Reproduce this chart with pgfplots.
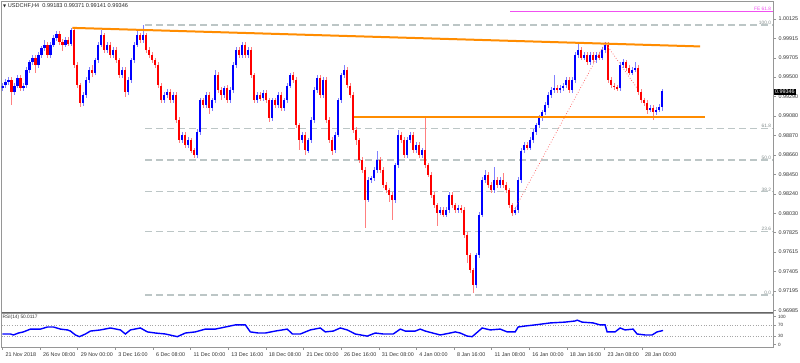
\documentclass[border=0pt]{standalone}
\usepackage{fontspec}
\setmainfont{Liberation Sans}
\newfontfamily\dejavu{DejaVu Sans}
\usepackage{pgfplots}
\usepackage{pgfplotstable}
\pgfplotsset{compat=1.18}

\definecolor{bull}{RGB}{0,0,255}
\definecolor{bear}{RGB}{255,0,0}
\definecolor{fibc}{RGB}{188,198,198}
\definecolor{fibt}{RGB}{130,140,140}
\definecolor{trend}{RGB}{255,140,0}
\definecolor{fe}{RGB}{240,80,240}
\definecolor{framec}{RGB}{150,150,150}

\pgfplotstableread{
x o h l c
0 0.9938 0.9944 0.9935 0.9941
1 0.9941 0.9948 0.9938 0.9945
2 0.9945 0.9950 0.9942 0.9947
3 0.9947 0.9950 0.9920 0.9934
4 0.9934 0.9944 0.9931 0.9941
5 0.9941 0.9952 0.9938 0.9949
6 0.9949 0.9952 0.9935 0.9938
7 0.9938 0.9944 0.9935 0.9941
8 0.9941 0.9961 0.9938 0.9958
9 0.9958 0.9969 0.9955 0.9966
10 0.9966 0.9974 0.9963 0.9971
11 0.9971 0.9974 0.9955 0.9963
12 0.9963 0.9977 0.9960 0.9974
13 0.9974 0.9984 0.9971 0.9981
14 0.9981 0.9990 0.9978 0.9985
15 0.9985 0.9988 0.9971 0.9974
16 0.9974 0.9988 0.9971 0.9985
17 0.9985 0.9995 0.9982 0.9992
18 0.9992 1.0000 0.9989 0.9997
19 0.9997 1.0000 0.9985 0.9988
20 0.9988 0.9991 0.9978 0.9985
21 0.9985 0.9993 0.9982 0.9990
22 0.9990 0.9993 0.9983 0.9986
23 0.9986 1.0003 0.9983 1.0001
24 1.0001 1.0003 0.9960 0.9963
25 0.9963 0.9966 0.9938 0.9941
26 0.9941 0.9944 0.9918 0.9922
27 0.9922 0.9934 0.9919 0.9931
28 0.9931 0.9950 0.9928 0.9947
29 0.9947 0.9961 0.9944 0.9958
30 0.9958 0.9963 0.9950 0.9955
31 0.9955 0.9971 0.9952 0.9968
32 0.9968 0.9988 0.9965 0.9985
33 0.9985 1.0001 0.9982 0.9995
34 0.9995 0.9998 0.9976 0.9979
35 0.9979 0.9988 0.9976 0.9985
36 0.9985 0.9988 0.9971 0.9974
37 0.9974 0.9982 0.9971 0.9979
38 0.9979 0.9982 0.9965 0.9968
39 0.9968 0.9971 0.9949 0.9952
40 0.9952 0.9961 0.9949 0.9958
41 0.9958 0.9961 0.9929 0.9934
42 0.9934 0.9950 0.9931 0.9947
43 0.9947 0.9971 0.9944 0.9968
44 0.9968 0.9988 0.9965 0.9985
45 0.9985 1.0001 0.9982 0.9995
46 0.9995 0.9998 0.9987 0.9990
47 0.9990 1.0006 0.9987 0.9995
48 0.9995 0.9998 0.9976 0.9979
49 0.9979 0.9982 0.9971 0.9974
50 0.9974 0.9977 0.9965 0.9968
51 0.9968 0.9971 0.9960 0.9963
52 0.9963 0.9966 0.9938 0.9941
53 0.9941 0.9944 0.9922 0.9925
54 0.9925 0.9934 0.9922 0.9931
55 0.9931 0.9937 0.9928 0.9934
56 0.9934 0.9937 0.9922 0.9925
57 0.9925 0.9934 0.9922 0.9931
58 0.9931 0.9934 0.9901 0.9904
59 0.9904 0.9907 0.9879 0.9882
60 0.9882 0.9891 0.9879 0.9888
61 0.9888 0.9891 0.9874 0.9877
62 0.9877 0.9885 0.9874 0.9882
63 0.9882 0.9885 0.9868 0.9871
64 0.9871 0.9874 0.9863 0.9866
65 0.9866 0.9894 0.9863 0.9891
66 0.9891 0.9928 0.9888 0.9925
67 0.9925 0.9928 0.9917 0.9920
68 0.9920 0.9934 0.9917 0.9931
69 0.9931 0.9934 0.9910 0.9917
70 0.9917 0.9928 0.9914 0.9925
71 0.9925 0.9958 0.9922 0.9952
72 0.9952 0.9955 0.9933 0.9936
73 0.9936 0.9939 0.9925 0.9931
74 0.9931 0.9941 0.9928 0.9938
75 0.9938 0.9941 0.9922 0.9925
76 0.9925 0.9939 0.9922 0.9936
77 0.9936 0.9966 0.9933 0.9963
78 0.9963 0.9982 0.9960 0.9979
79 0.9979 0.9982 0.9971 0.9974
80 0.9974 0.9988 0.9971 0.9985
81 0.9985 0.9988 0.9971 0.9974
82 0.9974 0.9982 0.9971 0.9979
83 0.9979 0.9982 0.9949 0.9952
84 0.9952 0.9955 0.9922 0.9925
85 0.9925 0.9934 0.9922 0.9931
86 0.9931 0.9934 0.9924 0.9927
87 0.9927 0.9936 0.9924 0.9933
88 0.9933 0.9936 0.9922 0.9925
89 0.9925 0.9928 0.9902 0.9906
90 0.9906 0.9928 0.9903 0.9925
91 0.9925 0.9928 0.9917 0.9920
92 0.9920 0.9934 0.9917 0.9931
93 0.9931 0.9934 0.9914 0.9917
94 0.9917 0.9928 0.9914 0.9925
95 0.9925 0.9944 0.9922 0.9941
96 0.9941 0.9955 0.9938 0.9952
97 0.9952 0.9955 0.9944 0.9947
98 0.9947 0.9950 0.9895 0.9898
99 0.9898 0.9901 0.9872 0.9882
100 0.9882 0.9891 0.9879 0.9888
101 0.9888 0.9891 0.9866 0.9871
102 0.9871 0.9885 0.9868 0.9882
103 0.9882 0.9907 0.9879 0.9904
104 0.9904 0.9939 0.9901 0.9936
105 0.9936 0.9952 0.9933 0.9949
106 0.9949 0.9952 0.9928 0.9931
107 0.9931 0.9950 0.9928 0.9947
108 0.9947 0.9950 0.9901 0.9904
109 0.9904 0.9907 0.9879 0.9882
110 0.9882 0.9885 0.9866 0.9871
111 0.9871 0.9891 0.9868 0.9888
112 0.9888 0.9928 0.9885 0.9925
113 0.9925 0.9955 0.9922 0.9952
114 0.9952 0.9963 0.9949 0.9958
115 0.9958 0.9961 0.9938 0.9941
116 0.9941 0.9944 0.9928 0.9931
117 0.9931 0.9934 0.9890 0.9893
118 0.9893 0.9896 0.9877 0.9882
119 0.9882 0.9885 0.9858 0.9861
120 0.9861 0.9864 0.9847 0.9850
121 0.9850 0.9853 0.9788 0.9818
122 0.9818 0.9842 0.9815 0.9839
123 0.9839 0.9844 0.9836 0.9841
124 0.9841 0.9853 0.9838 0.9850
125 0.9850 0.9871 0.9847 0.9861
126 0.9861 0.9864 0.9847 0.9850
127 0.9850 0.9853 0.9831 0.9834
128 0.9834 0.9837 0.9825 0.9828
129 0.9828 0.9831 0.9815 0.9823
130 0.9823 0.9826 0.9796 0.9818
131 0.9818 0.9858 0.9815 0.9855
132 0.9855 0.9893 0.9852 0.9888
133 0.9888 0.9891 0.9879 0.9882
134 0.9882 0.9885 0.9863 0.9866
135 0.9866 0.9885 0.9863 0.9882
136 0.9882 0.9891 0.9879 0.9888
137 0.9888 0.9891 0.9868 0.9871
138 0.9871 0.9880 0.9868 0.9877
139 0.9877 0.9880 0.9863 0.9866
140 0.9866 0.9874 0.9863 0.9871
141 0.9871 0.9907 0.9852 0.9855
142 0.9855 0.9858 0.9842 0.9845
143 0.9845 0.9848 0.9820 0.9823
144 0.9823 0.9826 0.9809 0.9812
145 0.9812 0.9815 0.9790 0.9804
146 0.9804 0.9810 0.9801 0.9807
147 0.9807 0.9810 0.9799 0.9802
148 0.9802 0.9810 0.9799 0.9807
149 0.9807 0.9826 0.9804 0.9823
150 0.9823 0.9826 0.9809 0.9812
151 0.9812 0.9815 0.9804 0.9807
152 0.9807 0.9812 0.9804 0.9809
153 0.9809 0.9812 0.9804 0.9807
154 0.9807 0.9810 0.9777 0.9780
155 0.9780 0.9783 0.9750 0.9758
156 0.9758 0.9761 0.9739 0.9742
157 0.9742 0.9745 0.9718 0.9726
158 0.9726 0.9761 0.9723 0.9758
159 0.9758 0.9805 0.9755 0.9802
160 0.9802 0.9842 0.9799 0.9839
161 0.9839 0.9850 0.9836 0.9845
162 0.9845 0.9848 0.9831 0.9834
163 0.9834 0.9837 0.9825 0.9828
164 0.9828 0.9853 0.9825 0.9839
165 0.9839 0.9842 0.9831 0.9834
166 0.9834 0.9842 0.9831 0.9839
167 0.9839 0.9847 0.9831 0.9834
168 0.9834 0.9837 0.9825 0.9828
169 0.9828 0.9831 0.9809 0.9812
170 0.9812 0.9815 0.9801 0.9804
171 0.9804 0.9810 0.9801 0.9807
172 0.9807 0.9842 0.9804 0.9839
173 0.9839 0.9874 0.9836 0.9871
174 0.9871 0.9880 0.9868 0.9877
175 0.9877 0.9880 0.9871 0.9874
176 0.9874 0.9885 0.9871 0.9882
177 0.9882 0.9894 0.9879 0.9891
178 0.9891 0.9901 0.9888 0.9898
179 0.9898 0.9909 0.9895 0.9906
180 0.9906 0.9915 0.9903 0.9912
181 0.9912 0.9923 0.9909 0.9920
182 0.9920 0.9934 0.9917 0.9931
183 0.9931 0.9939 0.9928 0.9936
184 0.9936 0.9952 0.9933 0.9938
185 0.9938 0.9941 0.9933 0.9936
186 0.9936 0.9941 0.9933 0.9938
187 0.9938 0.9944 0.9935 0.9941
188 0.9941 0.9950 0.9938 0.9947
189 0.9947 0.9950 0.9933 0.9936
190 0.9936 0.9950 0.9933 0.9947
191 0.9947 0.9977 0.9944 0.9974
192 0.9974 0.9987 0.9971 0.9979
193 0.9979 0.9982 0.9968 0.9971
194 0.9971 0.9977 0.9968 0.9974
195 0.9974 0.9977 0.9963 0.9966
196 0.9966 0.9977 0.9963 0.9974
197 0.9974 0.9977 0.9965 0.9968
198 0.9968 0.9977 0.9965 0.9974
199 0.9974 0.9977 0.9968 0.9971
200 0.9971 0.9982 0.9968 0.9979
201 0.9979 0.9988 0.9976 0.9985
202 0.9985 0.9988 0.9944 0.9947
203 0.9947 0.9950 0.9938 0.9941
204 0.9941 0.9944 0.9936 0.9939
205 0.9939 0.9942 0.9935 0.9938
206 0.9938 0.9966 0.9935 0.9963
207 0.9963 0.9970 0.9960 0.9966
208 0.9966 0.9969 0.9957 0.9960
209 0.9960 0.9963 0.9952 0.9955
210 0.9955 0.9961 0.9952 0.9958
211 0.9958 0.9966 0.9955 0.9960
212 0.9960 0.9963 0.9931 0.9934
213 0.9934 0.9937 0.9922 0.9925
214 0.9925 0.9928 0.9919 0.9922
215 0.9922 0.9925 0.9910 0.9915
216 0.9915 0.9920 0.9912 0.9917
217 0.9917 0.9920 0.9904 0.9912
218 0.9912 0.9918 0.9909 0.9915
219 0.9915 0.9921 0.9912 0.9918
220 0.9918 0.9937 0.9914 0.9935
}\candles

\begin{document}
\begin{tikzpicture}[font=\fontsize{5.6}{6.5}\selectfont]
\path[use as bounding box] (0pt,0pt) rectangle (800pt,362pt);
\fill[white] (0pt,0pt) rectangle (800pt,362pt);

\begin{axis}[
  at={(1.5pt,50pt)}, anchor=south west, scale only axis,
  width=771.5pt, height=310.5pt,
  xmin=-0.33, xmax=257, ymin=0.96970, ymax=1.00314,
  xtick=\empty,
  ytick={1.00125,0.99915,0.99705,0.99500,0.99290,0.99080,0.98870,0.98660,0.98450,0.98240,0.98030,0.97825,0.97615,0.97405,0.97195,0.96985},
  yticklabels={1.00125,0.99915,0.99705,0.99500,0.99290,0.99080,0.98870,0.98660,0.98450,0.98240,0.98030,0.97825,0.97615,0.97405,0.97195,0.96985},
  ytick pos=right, yticklabel pos=right,
  tick align=outside, major tick length=3pt,
  tick style={framec, line width=0.5pt},
  tick label style={font=\fontsize{5.4}{6}\selectfont, text=black!80},
  yticklabel style={xshift=-1pt},
  axis line style={framec, line width=0.6pt},
]
% Fibonacci levels
\addplot[fibc, line width=1.3pt, dash pattern=on 7pt off 4pt] coordinates {(47.67,1.00060) (257,1.00060)};
\addplot[fibc, line width=1.3pt, dash pattern=on 7pt off 4pt] coordinates {(47.67,0.98950) (257,0.98950)};
\addplot[fibc, line width=1.3pt, dash pattern=on 7pt off 4pt] coordinates {(47.67,0.98607) (257,0.98607)};
\addplot[fibc, line width=1.3pt, dash pattern=on 7pt off 4pt] coordinates {(47.67,0.98264) (257,0.98264)};
\addplot[fibc, line width=1.3pt, dash pattern=on 7pt off 4pt] coordinates {(47.67,0.97839) (257,0.97839)};
\addplot[fibc, line width=1.3pt, dash pattern=on 7pt off 4pt] coordinates {(47.67,0.97153) (257,0.97153)};

% wicks
\addplot[draw=none, mark=none, restrict expr to domain={\thisrow{c}-\thisrow{o}}{0:1},
  error bars/.cd, y dir=both, y explicit, error mark=none,
  error bar style={draw=bull!50, line width=0.7pt}]
  table[x=x, y expr={(\thisrow{h}+\thisrow{l})/2}, y error expr={(\thisrow{h}-\thisrow{l})/2}] {\candles};
\addplot[draw=none, mark=none, restrict expr to domain={\thisrow{c}-\thisrow{o}}{-1:-0.00001},
  error bars/.cd, y dir=both, y explicit, error mark=none,
  error bar style={draw=bear!50, line width=0.7pt}]
  table[x=x, y expr={(\thisrow{h}+\thisrow{l})/2}, y error expr={(\thisrow{h}-\thisrow{l})/2}] {\candles};
% bodies
\addplot[draw=none, mark=none, restrict expr to domain={\thisrow{c}-\thisrow{o}}{0:1},
  error bars/.cd, y dir=both, y explicit, error mark=none,
  error bar style={draw=bull, line width=2.1pt}]
  table[x=x, y expr={(\thisrow{o}+\thisrow{c})/2}, y error expr={max(abs(\thisrow{c}-\thisrow{o})/2,0.00003)}] {\candles};
\addplot[draw=none, mark=none, restrict expr to domain={\thisrow{c}-\thisrow{o}}{-1:-0.00001},
  error bars/.cd, y dir=both, y explicit, error mark=none,
  error bar style={draw=bear, line width=2.1pt}]
  table[x=x, y expr={(\thisrow{o}+\thisrow{c})/2}, y error expr={max(abs(\thisrow{c}-\thisrow{o})/2,0.00003)}] {\candles};

% trend lines
\addplot[trend, line width=2pt] coordinates {(23.33,1.0003) (232.67,0.9983)};
\addplot[trend, line width=2pt] coordinates {(117.33,0.9907) (234.33,0.9907)};
\addplot[red!65, dotted, line width=0.7pt] coordinates {(170,0.9803) (201,0.9987) (211.67,0.9938)};
\addplot[fe, line width=1.1pt] coordinates {(169.33,1.0021) (257,1.0021)};

\begin{scope}[every node/.style={font=\fontsize{4.8}{5}\selectfont, inner sep=0.6pt, anchor=south east}]
\node[text=fibt] at (axis cs:256.6,1.00060) {100.0};
\node[text=fibt] at (axis cs:256.6,0.98950) {61.8};
\node[text=fibt] at (axis cs:256.6,0.98607) {50.0};
\node[text=fibt] at (axis cs:256.6,0.98264) {38.2};
\node[text=fibt] at (axis cs:256.6,0.97839) {23.6};
\node[text=fibt] at (axis cs:256.6,0.97153) {0.0};
\node[text=fe] at (axis cs:256.6,1.0021) {FE 61.8};
\end{scope}
\end{axis}

% separator between panels
\draw[black!60, line width=1.6pt] (1.5pt,49.6pt) -- (773pt,49.6pt);

\begin{axis}[
  at={(1.5pt,15pt)}, anchor=south west, scale only axis,
  width=771.5pt, height=33.5pt,
  xmin=-0.33, xmax=257, ymin=-8.93, ymax=110.7,
  ytick={0,30,70,100}, yticklabels={0,30,70,100},
  ytick pos=right, yticklabel pos=right,
  xtick={0,12.55,25.1,37.65,50.2,62.75,75.3,87.85,100.4,112.95,125.5,138.05,150.6,163.15,175.7,188.25,200.8,213.35},
  xticklabels={21 Nov 2018,26 Nov 08:00,29 Nov 00:00,3 Dec 16:00,6 Dec 08:00,11 Dec 00:00,13 Dec 16:00,18 Dec 08:00,21 Dec 00:00,26 Dec 16:00,31 Dec 08:00,4 Jan 00:00,8 Jan 16:00,11 Jan 08:00,16 Jan 00:00,18 Jan 16:00,23 Jan 08:00,28 Jan 00:00},
  xtick pos=bottom,
  tick align=outside, major tick length=2.5pt,
  tick style={framec, line width=0.5pt},
  tick label style={font=\fontsize{5.4}{6}\selectfont, text=black!80},
  xticklabel style={anchor=north west, xshift=-0.5pt, yshift=0.5pt},
  yticklabel style={xshift=-1pt, font=\fontsize{4.6}{5}\selectfont},
  axis line style={framec, line width=0.6pt},
]
\addplot[black!35, dotted, line width=0.6pt] coordinates {(-0.33,70) (257,70)};
\addplot[black!35, dotted, line width=0.6pt] coordinates {(-0.33,30) (257,30)};
\addplot[bull, line width=1.4pt] coordinates {
(0,37.5) (2.67,37.5) (3.67,34) (5.33,41) (7,45) (9.33,55) (12.67,55) (15,62.5) (17,62.5) (19.33,55) (21.67,52) (22.67,48) (24.33,34) (25.67,28) (27.67,37.5) (29.33,48) (32.67,52) (36,59) (39.33,52) (41,37.5) (42.67,52) (46,59) (48.33,45) (51,41) (54.33,37.5) (58.33,28) (61,41) (64.33,45) (67.67,55) (71,55) (74.33,62.5) (77.67,70) (81,70) (82.67,45) (85.33,41) (87.67,41) (91,48) (95,55) (96.67,37.5) (99.33,37.5) (102.67,52) (106,59) (107.67,45) (110.33,48) (112.67,59) (115,52) (117.67,37.5) (121.67,30) (124.33,41) (127,37.5) (130.33,37.5) (132.67,55) (134.33,48) (137.67,48) (139.33,55) (141,48) (146,34) (149.33,41) (151,45) (152.67,41) (155,30) (156.67,28) (160,59) (162.67,52) (166,55) (168.33,45) (171,45) (172,62.5) (174.33,66) (177.67,70) (182.67,77) (187.67,80) (191,84) (191.67,87) (193.33,80) (197,77) (199.33,70) (201,70) (201.67,45) (204.33,45) (206,59) (207.67,52) (210.33,55) (211.67,37.5) (214.33,34) (216.67,34) (218.33,45) (220.33,50)
};
\node[anchor=north west, font=\fontsize{4.8}{5}\selectfont, text=black!80, inner sep=1pt] at (rel axis cs:0,1) {RSI(14) 50.0117};
\end{axis}

% title and price tag
\node[anchor=west, text=black!85, inner sep=0pt] at (3pt,356pt) {{\dejavu\fontsize{4}{5}\selectfont ▼} USDCHF,H4\ \ 0.99183 0.99371 0.99141 0.99346};
\node[fill=black, text=white, anchor=west, inner xsep=1pt, inner ysep=0.7pt, font=\fontsize{5.4}{6}\selectfont] at (774pt,270pt) {0.99346};
\end{tikzpicture}
\end{document}
